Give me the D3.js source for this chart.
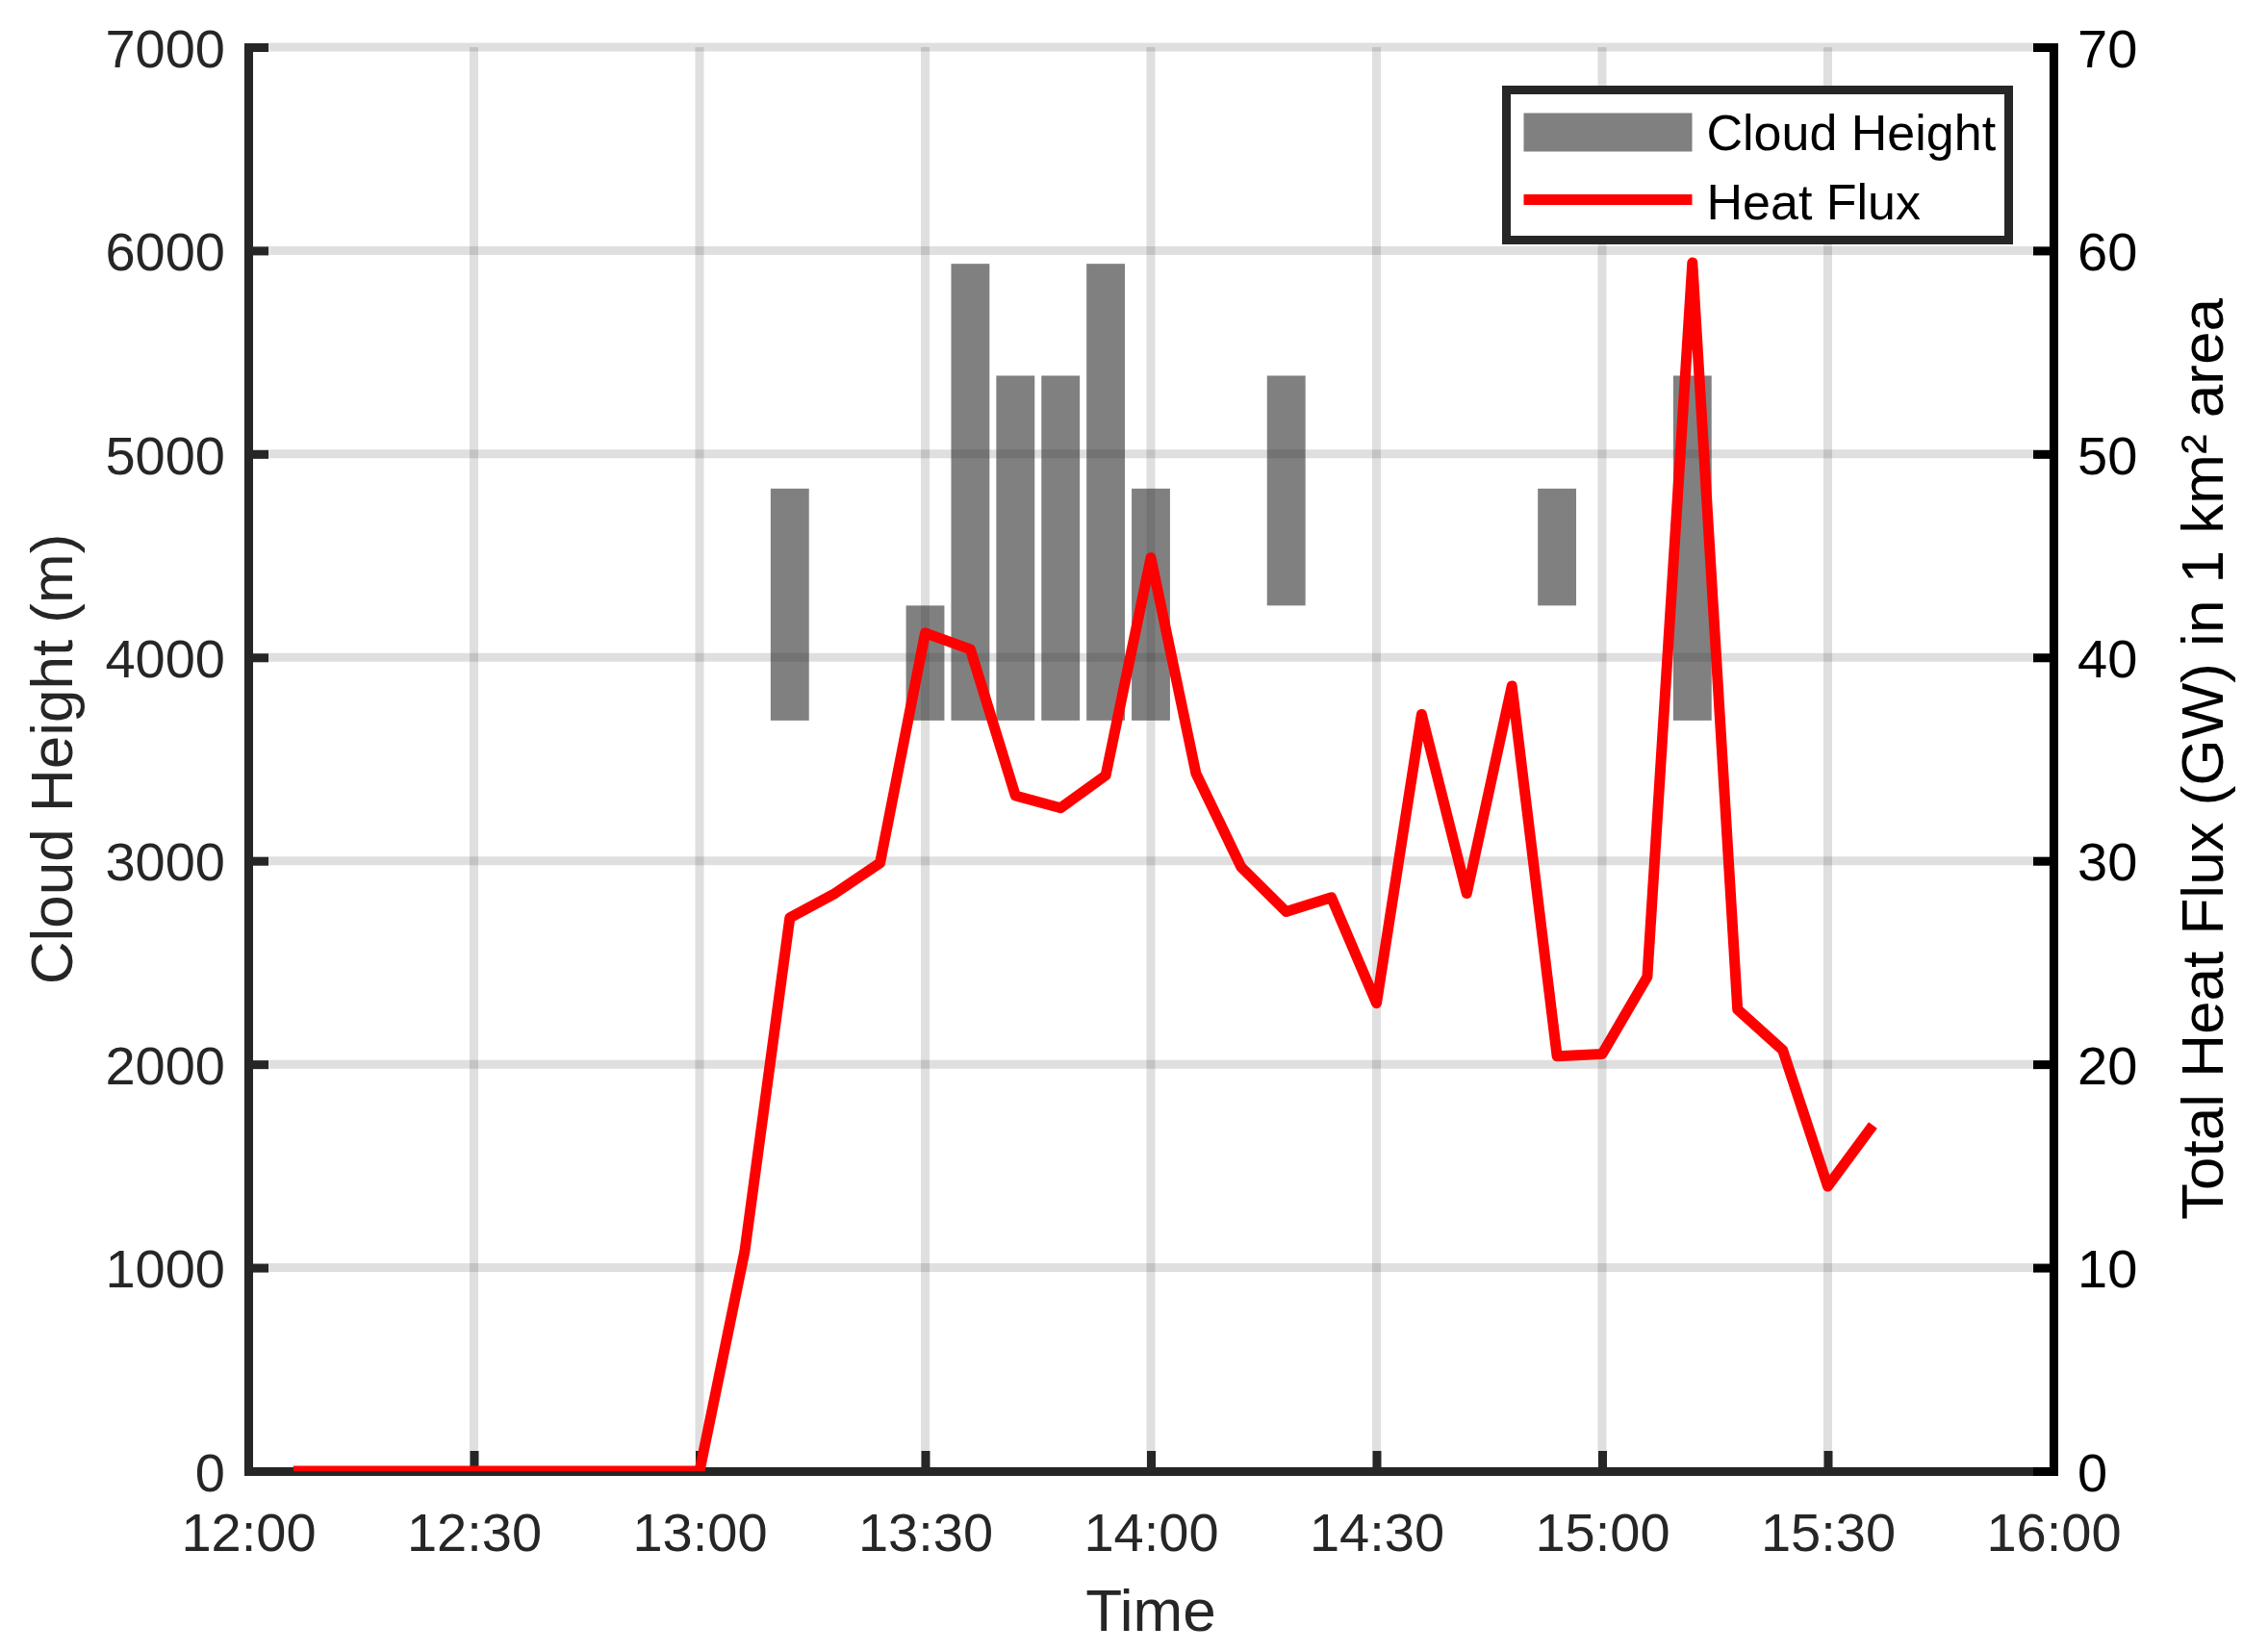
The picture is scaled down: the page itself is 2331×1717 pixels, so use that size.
<!DOCTYPE html>
<html>
<head>
<meta charset="utf-8">
<script src="https://cdn.jsdelivr.net/npm/d3@7"></script>
<style>
    body { margin: 0; background: #fff; }
    text { font-family: "Liberation Sans", Arial, sans-serif; }
</style>
</head>
<body>
<div id="vis"></div>
<script>
// heat flux, sampled every 6 min (GW in 1 km2)
var fluxTimes = ['12:06','12:12','12:18','12:24','12:30','12:36','12:42','12:48','12:54','13:00',
                 '13:06','13:12','13:18','13:24','13:30','13:36','13:42','13:48','13:54','14:00',
                 '14:06','14:12','14:18','14:24','14:30','14:36','14:42','14:48','14:54','15:00',
                 '15:06','15:12','15:18','15:24','15:30','15:36'];
var fluxValues = [0, 0, 0, 0, 0, 0, 0, 0, 0, 0,
                  10.8, 27.2, 28.4, 29.9, 41.2, 40.4, 33.2, 32.6, 34.2, 44.9,
                  34.3, 29.7, 27.5, 28.2, 23.0, 37.2, 28.4, 38.6, 20.4, 20.5,
                  24.3, 59.4, 22.7, 20.7, 14.0, 17.0];

// cloud layers: base and top height (m)
var cloudTimes = ['13:12','13:30','13:36','13:42','13:48','13:54','14:00','14:18','14:54','15:12'];
var cloudBase  = [3690, 3690, 3690, 3690, 3690, 3690, 3690, 4255, 4255, 3690];
var cloudTop   = [4830, 4255, 5935, 5385, 5385, 5935, 4830, 5385, 4830, 5385];

var xTickStart = '12:00', xTickEnd = '16:00';
var leftTicks = [0, 1000, 2000, 3000, 4000, 5000, 6000, 7000];
var rightTicks = [0, 10, 20, 30, 40, 50, 60, 70];
var legendLabels = ['Cloud Height', 'Heat Flux'];

var parseTime = d3.timeParse('%H:%M');

var width = 2331, height = 1717;
var margin = { left: 258, top: 49, right: 2331 - 2134, bottom: 1717 - 1529 };
var drawWidth = width - margin.left - margin.right,
    drawHeight = height - margin.top - margin.bottom;

var axisColor = '#262626';
var lw = 9;

var svg = d3.select('#vis').append('svg')
            .attr('width', width)
            .attr('height', height);

var g = svg.append('g')
           .attr('transform', `translate(${margin.left},${margin.top})`);

svg.append('defs').append('clipPath').attr('id', 'plotClip')
   .append('rect').attr('x', 0).attr('y', 0)
   .attr('width', drawWidth).attr('height', drawHeight);

var xScale = d3.scaleTime()
               .domain([parseTime(xTickStart), parseTime(xTickEnd)])
               .range([0, drawWidth]);
var yLeft = d3.scaleLinear().domain([0, 7000]).range([drawHeight, 0]);
var yRight = d3.scaleLinear().domain([0, 70]).range([drawHeight, 0]);

var xTicks = xScale.ticks(d3.timeMinute.every(30));

// bars
var sixMin = 6 * 60 * 1000;
var barW = xScale(new Date(parseTime('12:00').getTime() + sixMin * 0.85)) - xScale(parseTime('12:00'));
var cloudData = cloudTimes.map((t, i) => ({ t: parseTime(t), base: cloudBase[i], top: cloudTop[i] }));

g.append('g').attr('clip-path', 'url(#plotClip)')
 .selectAll('rect')
 .data(cloudData)
 .enter()
 .append('rect')
 .attr('x', (d) => xScale(d.t) - barW / 2)
 .attr('width', barW)
 .attr('y', (d) => yLeft(d.top))
 .attr('height', (d) => yLeft(d.base) - yLeft(d.top))
 .attr('fill', '#808080');

// grid
var grid = g.append('g')
            .attr('stroke', axisColor)
            .attr('stroke-opacity', 0.15)
            .attr('stroke-width', lw);
grid.selectAll('.hg').data(leftTicks).enter()
    .append('line')
    .attr('x1', 0).attr('x2', drawWidth)
    .attr('y1', (d) => yLeft(d)).attr('y2', (d) => yLeft(d));
grid.selectAll('.vg').data(xTicks).enter()
    .append('line')
    .attr('y1', 0).attr('y2', drawHeight)
    .attr('x1', (d) => xScale(d)).attr('x2', (d) => xScale(d));

// axes
var tickLen = 21;
var xAxis = d3.axisBottom(xScale)
              .tickValues(xTicks)
              .tickFormat(d3.timeFormat('%H:%M'))
              .tickSizeInner(-tickLen).tickSizeOuter(0);
var yAxisL = d3.axisLeft(yLeft).tickValues(leftTicks)
               .tickFormat(d3.format('d'))
               .tickSizeInner(-tickLen).tickSizeOuter(0).tickPadding(24);
var yAxisR = d3.axisRight(yRight).tickValues(rightTicks)
               .tickFormat(d3.format('d'))
               .tickSizeInner(-tickLen).tickSizeOuter(0).tickPadding(25);

var styleAxis = (sel, color) => {
    sel.select('.domain').attr('stroke', color).attr('stroke-width', lw)
       .attr('stroke-linecap', 'square');
    sel.selectAll('.tick line').attr('stroke', color).attr('stroke-width', lw);
    sel.selectAll('.tick text').attr('fill', color)
       .style('font-size', '56px')
       .style('font-family', '"Liberation Sans", Arial, sans-serif');
};

var xAxisG = g.append('g')
              .attr('transform', `translate(0,${drawHeight})`)
              .call(xAxis)
              .call((s) => styleAxis(s, axisColor));
xAxisG.selectAll('.tick text').attr('y', 83).attr('dy', 0);

var yAxisLG = g.append('g').call(yAxisL).call((s) => styleAxis(s, axisColor));
yAxisLG.selectAll('.tick text').attr('dy', '0.36em');

var yAxisRG = g.append('g')
               .attr('transform', `translate(${drawWidth},0)`)
               .call(yAxisR)
               .call((s) => styleAxis(s, '#000'));
yAxisRG.selectAll('.tick text').attr('dy', '0.36em');

// heat flux line
var fluxData = fluxTimes.map((t, i) => ({ t: parseTime(t), v: fluxValues[i] }));
var line = d3.line().x((d) => xScale(d.t)).y((d) => yRight(d.v));

g.append('g').attr('clip-path', 'url(#plotClip)')
 .append('path')
 .datum(fluxData)
 .attr('d', line)
 .attr('fill', 'none')
 .attr('stroke', '#ff0000')
 .attr('stroke-width', 11)
 .attr('stroke-linejoin', 'round')
 .attr('stroke-linecap', 'butt');

// axis titles
svg.append('text')
   .attr('x', margin.left + drawWidth / 2).attr('y', 1695)
   .attr('text-anchor', 'middle')
   .attr('fill', axisColor)
   .style('font-size', '62px')
   .text('Time');

svg.append('text')
   .attr('transform', `translate(75,${margin.top + drawHeight / 2}) rotate(-90)`)
   .attr('text-anchor', 'middle')
   .attr('fill', axisColor)
   .style('font-size', '62px')
   .text('Cloud Height (m)');

svg.append('text')
   .attr('transform', `translate(2310,${margin.top + drawHeight / 2}) rotate(-90)`)
   .attr('text-anchor', 'middle')
   .attr('fill', '#000')
   .style('font-size', '62px')
   .text('Total Heat Flux (GW) in 1 km\u00b2 area');

// legend
var legend = svg.append('g').attr('transform', 'translate(1565.5,93.5)');
legend.append('rect')
      .attr('width', 522).attr('height', 156)
      .attr('fill', '#fff')
      .attr('stroke', axisColor)
      .attr('stroke-width', lw);
legend.append('rect')
      .attr('x', 18).attr('y', 24)
      .attr('width', 175).attr('height', 40)
      .attr('fill', '#808080');
legend.append('line')
      .attr('x1', 18).attr('x2', 193)
      .attr('y1', 114).attr('y2', 114)
      .attr('stroke', '#ff0000').attr('stroke-width', 11);
legend.selectAll('.lt')
      .data(legendLabels)
      .enter()
      .append('text')
      .attr('x', 208)
      .attr('y', (d, i) => i === 0 ? 62 : 134)
      .attr('fill', '#000')
      .style('font-size', '52px')
      .text((d) => d);
</script>
</body>
</html>
